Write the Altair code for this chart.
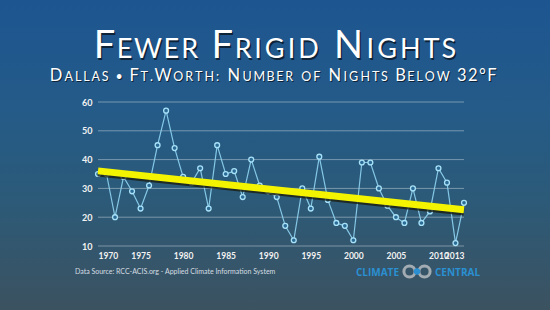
import altair as alt
import pandas as pd

years = list(range(1970, 2014))
nights = [35, 35, 20, 34, 29, 23, 31, 45, 57, 44,
          34, 32, 37, 23, 45, 35, 36, 27, 40, 31,
          29, 27, 17, 12, 30, 23, 41, 26, 18, 17,
          12, 39, 39, 30, 24, 20, 18, 30, 18, 22,
          37, 32, 11, 25]
y_ticks = [10, 20, 30, 40, 50, 60]
x_ticks = [1970, 1975, 1980, 1985, 1990, 1995, 2000, 2005, 2010, 2013]
title = "FEWER FRIGID NIGHTS"
subtitle = "DALLAS • FT.WORTH: NUMBER OF NIGHTS BELOW 32°F"
source = "Data Source: RCC-ACIS.org - Applied Climate Information System"

df = pd.DataFrame({"year": years, "nights": nights})
grid_df = pd.DataFrame({"nights": y_ticks})

# plot-area geometry (absolute page pixels)
L, T, R, B = 98, 102, 464, 246
W, H = R - L, B - T
one = alt.Data(values=[{"k": 0}])


def txt(s, ax, ay, size, color, align="left", weight="normal", font="Lato",
        baseline="alphabetic", shadow=True, sdx=1.2, sdy=1.5):
    layers = []
    if shadow:
        layers.append(alt.Chart(one).mark_text(
            text=s, align=align, baseline=baseline, fontSize=size, font=font,
            fontWeight=weight, color="#0b1a2a", opacity=0.85, dx=sdx, dy=sdy
        ).encode(x=alt.value(ax - L), y=alt.value(ay - T)))
    layers.append(alt.Chart(one).mark_text(
        text=s, align=align, baseline=baseline, fontSize=size, font=font,
        fontWeight=weight, color=color
    ).encode(x=alt.value(ax - L), y=alt.value(ay - T)))
    return layers


# approximate relative glyph widths (em) for tracked small-caps layout
rel_w = {"A": .66, "B": .58, "D": .74, "E": .52, "F": .50, "G": .72, "H": .74,
         "I": .26, "L": .47, "M": .85, "N": .78, "O": .80, "R": .58, "S": .46,
         "T": .56, "U": .72, "W": .95, "•": .40, ".": .22, ":": .22, "3": .52,
         "2": .52, "°": .36, " ": .30}


def small_caps(text, x0, x1, baseline, big, small, sdx, sdy):
    chars = []
    for word in text.split(" "):
        if chars:
            chars.append((" ", small))
        all_small = word in ("OF", "•")
        all_big = word[0].isdigit()
        prev = ""
        for c in word:
            is_big = all_big or (not all_small and (prev in ("", ".")))
            chars.append((c, big if is_big else small))
            prev = c
    widths = [rel_w[c] * s for c, s in chars]
    track = ((x1 - x0) - sum(widths)) / (len(chars) - 1)
    out = []
    x = x0
    for (c, s), w in zip(chars, widths):
        if c != " ":
            out += txt(c, x + w / 2, baseline, s, "#ffffff", align="center", sdx=sdx, sdy=sdy)
        x += w + track
    return out


bg = alt.Chart(one).mark_rect(
    color=alt.Gradient(
        gradient="linear",
        stops=[alt.GradientStop(color="#1d5591", offset=0),
               alt.GradientStop(color="#245b88", offset=0.35),
               alt.GradientStop(color="#2c5a78", offset=0.65),
               alt.GradientStop(color="#3c5260", offset=1)],
        x1=0, x2=0, y1=0, y2=1)
).encode(x=alt.value(-L), x2=alt.value(550 - L), y=alt.value(-T), y2=alt.value(310 - T))

xscale = alt.Scale(domain=[1970, 2013], nice=False, zero=False)
yscale = alt.Scale(domain=[10, 60], nice=False, zero=False)
xaxis = alt.Axis(values=x_ticks, format="d", grid=False, domain=False, ticks=False,
                 labelColor="#f2f2f2", labelFont="Lato", labelFontSize=8.5,
                 labelFontWeight="bold", labelPadding=5, title=None, zindex=1,
                 labelOverlap=False)
yaxis = alt.Axis(values=y_ticks, grid=False, domain=False, ticks=False,
                 labelColor="#f2f2f2", labelFont="Lato", labelFontSize=9,
                 labelFontWeight="bold", labelPadding=6, title=None, zindex=1,
                 labelOverlap=False)
xs = alt.X("year:Q", scale=xscale, axis=xaxis)
ys = alt.Y("nights:Q", scale=yscale, axis=yaxis)

gridlines = alt.Chart(grid_df).mark_rule(color="#b9cad6", opacity=0.55, strokeWidth=1).encode(
    y=ys, x=alt.value(0), x2=alt.value(W))

base = alt.Chart(df)
line = base.mark_line(color="#8fd4f2", strokeWidth=1.2, opacity=0.9).encode(x=xs, y=ys)
pts = base.mark_point(shape="circle", size=24, fill="#2c6b96", fillOpacity=1,
                      stroke="#a8e2f8", strokeWidth=1.3, opacity=1).encode(x=xs, y=ys)

reg = base.transform_regression("year", "nights", extent=[1970, 2013])
trend_shadow = reg.transform_calculate(ys2="datum.nights - 0.55").mark_line(
    color="#1a1a0a", strokeWidth=8, opacity=0.75, strokeCap="butt"
).encode(x=alt.X("year:Q", scale=xscale, axis=xaxis),
         y=alt.Y("ys2:Q", scale=yscale, axis=yaxis))
trend = reg.mark_line(color="#f4f400", strokeWidth=7, strokeCap="butt").encode(x=xs, y=ys)

layers = [bg, gridlines, line, pts, trend_shadow, trend]

layers += small_caps(title, 95, 455, 58, 38, 27, 1.3, 1.6)
layers += small_caps(subtitle, 50, 496, 81, 16.5, 12.5, 1.0, 1.2)

layers += txt(source, 75, 274, 7, "#d5dde2", shadow=False)
layers += txt("CLIMATE", 399, 275.5, 10, "#2a90d2", align="right", weight="bold",
              font="Open Sans", shadow=False)
layers += txt("CENTRAL", 435, 275.5, 10, "#2a90d2", align="left", weight="bold",
              font="Open Sans", shadow=False)

ring = alt.Chart(one).mark_point(shape="circle", size=125, filled=False, stroke="#a3acb3",
                                 strokeWidth=3, opacity=1)
layers.append(ring.encode(x=alt.value(409.5 - L), y=alt.value(271.5 - T)))
layers.append(ring.encode(x=alt.value(424.5 - L), y=alt.value(271.5 - T)))
layers.append(alt.Chart(one).mark_point(shape="circle", size=40, filled=True, color="#2a90d2",
                                        opacity=1).encode(x=alt.value(417 - L), y=alt.value(271.5 - T)))

chart = alt.layer(*layers).properties(
    width=W, height=H,
    padding={"left": L, "top": T, "right": 550 - R, "bottom": 310 - B},
    autosize=alt.AutoSizeParams(type="none"),
    background="#2a5878",
).configure_view(stroke=None).resolve_scale(x="shared", y="shared")

chart.save("out.html", embed_options={"renderer": "svg", "actions": False})
